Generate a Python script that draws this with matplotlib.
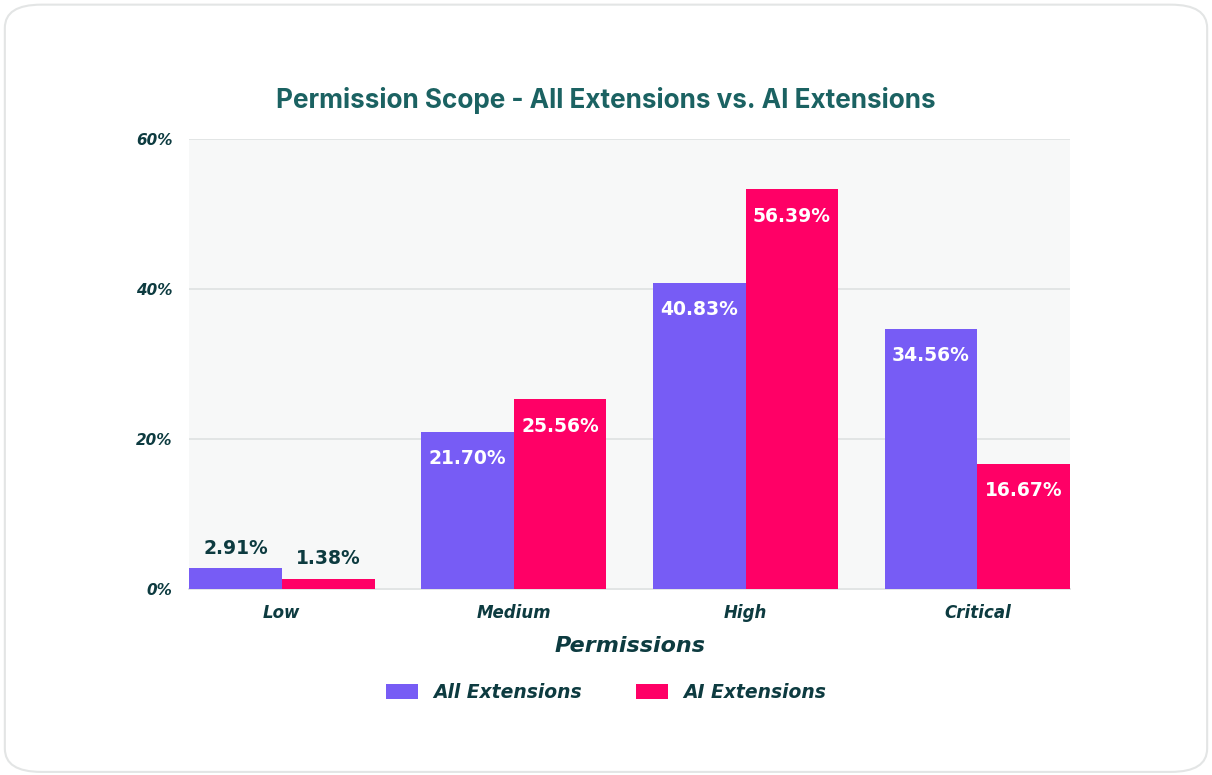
import matplotlib.pyplot as plt
import numpy as np
from matplotlib.patches import FancyBboxPatch

categories = ["Low", "Medium", "High", "Critical"]
series_names = ["All Extensions", "AI Extensions"]
all_heights = [2.75, 21.0, 40.83, 34.7]
ai_heights = [1.38, 25.3, 53.3, 16.67]
all_labels = ["2.91%", "21.70%", "40.83%", "34.56%"]
ai_labels = ["1.38%", "25.56%", "56.39%", "16.67%"]
yticks = [0, 20, 40, 60]

purple = "#775cf5"
pink = "#ff0066"
dark = "#0d3b40"
teal = "#1b6262"

fig = plt.figure(figsize=(12.12, 7.75), dpi=100)
frame = FancyBboxPatch((0.004, 0.004), 0.992, 0.99, boxstyle="round,pad=0,rounding_size=0.03",
                       transform=fig.transFigure, facecolor="white", edgecolor="#e3e5e5", lw=1.5,
                       zorder=-10)
fig.patches.append(frame)

ax = fig.add_axes([0.156, 0.24, 0.727, 0.5806])
ax.set_facecolor("#f7f8f8")

x = np.arange(len(categories))
w = 0.4
b1 = ax.bar(x - w / 2, all_heights, w, color=purple, label=series_names[0], zorder=3)
b2 = ax.bar(x + w / 2, ai_heights, w, color=pink, label=series_names[1], zorder=3)

for bars, labels in [(b1, all_labels), (b2, ai_labels)]:
	for rect, lab in zip(bars, labels):
		h = rect.get_height()
		cx = rect.get_x() + rect.get_width() / 2
		if h < 10:
			ax.text(cx, h + 2.7, lab, ha="center", va="center", color=dark,
			        fontsize=13.5, fontweight="bold", zorder=4)
		else:
			ax.text(cx, h - 3.6, lab, ha="center", va="center", color="white",
			        fontsize=13.5, fontweight="bold", zorder=4)

ax.set_xlim(-0.4, 3.4)
ax.set_ylim(0, 60)
ax.set_yticks(yticks)
ax.set_yticklabels([f"{t}%" for t in yticks], fontsize=11, style="italic", fontweight="bold", color=dark)
ax.set_xticks(x)
ax.set_xticklabels(categories, fontsize=12, style="italic", fontweight="semibold", color=dark)
ax.tick_params(axis="both", length=0)
ax.tick_params(axis="x", pad=11)
ax.tick_params(axis="y", pad=12)
ax.grid(axis="y", color="#e2e5e5", lw=1.4, zorder=0)
for s in ["top", "right", "left"]:
	ax.spines[s].set_visible(False)
ax.spines["bottom"].set_color("#e2e5e5")
ax.spines["bottom"].set_linewidth(1.4)

ax.set_xlabel("Permissions", fontsize=16, fontweight="bold", style="italic", color=dark, labelpad=10)
fig.text(0.5, 0.87, "Permission Scope - All Extensions vs. AI Extensions", ha="center", va="center",
         fontsize=18.8, fontweight="bold", color=teal, family=["Inter", "DejaVu Sans"])

leg = fig.legend(handles=[b1, b2], loc="center", bbox_to_anchor=(0.5, 0.107), ncol=2, frameon=False,
                 prop={"size": 13.5, "style": "italic", "weight": "semibold"}, handlelength=1.7,
                 handleheight=0.85, columnspacing=2.9, handletextpad=0.8)
for t in leg.get_texts():
	t.set_color(dark)

fig.savefig("out.png", dpi=100)
